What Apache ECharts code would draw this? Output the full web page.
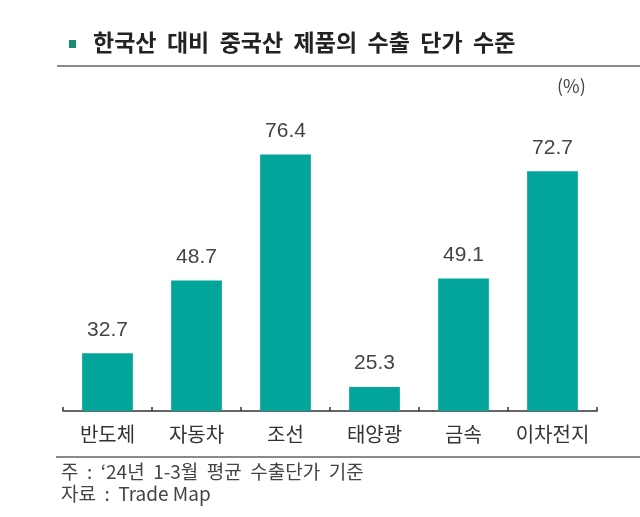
<!DOCTYPE html>
<html><head><meta charset="utf-8">
<script src="https://cdn.jsdelivr.net/npm/echarts@6/dist/echarts.min.js"></script>
<style>html,body{margin:0;padding:0;background:#fff}#c{width:640px;height:517px}</style>
</head><body><div id="c"></div>
<script>
const categories = ['반도체', '자동차', '조선', '태양광', '금속', '이차전지'];
const values = [32.7, 48.7, 76.4, 25.3, 49.1, 72.7];
const titleText = '한국산  대비  중국산  제품의  수출  단가  수준';
const unitText = '(%)';
const noteText = '주  :  ‘24년  1-3월  평균  수출단가  기준';
const sourceText = '자료  :  Trade Map';

const KR = '"Noto Sans CJK KR", "Noto Sans", sans-serif';
const chart = echarts.init(document.getElementById('c'), null, {renderer: 'canvas'});
chart.setOption({
  animation: false,
  backgroundColor: '#fff',
  grid: {left: 63, right: 43, top: 47, bottom: 106},
  xAxis: {
    type: 'category', data: categories, boundaryGap: true,
    axisLine: {lineStyle: {color: '#333', width: 1.5}},
    axisTick: {show: true, inside: true, length: 4, interval: 0, lineStyle: {color: '#333', width: 1.5}},
    axisLabel: {color: '#333', fontSize: 20, fontFamily: KR, margin: 13, interval: 0}
  },
  yAxis: {type: 'value', min: 20, max: 100, show: false, splitLine: {show: false}},
  series: [{
    type: 'bar', data: values, barWidth: '57%',
    itemStyle: {color: '#03a59b'},
    label: {show: true, position: 'top', distance: 13, color: '#444', fontSize: 21,
      fontFamily: '"Liberation Sans", Arial, sans-serif',
      formatter: p => p.value.toFixed(1)}
  }],
  graphic: [
    {type: 'rect', shape: {x: 69, y: 40, width: 7, height: 8}, style: {fill: '#1a8c74'}},
    {type: 'text', left: 93, top: 31, style: {text: titleText, fill: '#222', font: 'bold 23px ' + KR}},
    {type: 'line', shape: {x1: 57, y1: 66, x2: 640, y2: 66}, style: {stroke: '#8a8a8a', lineWidth: 2}},
    {type: 'text', left: 557, top: 77, style: {text: unitText, fill: '#444', font: '18px ' + KR}},
    {type: 'line', shape: {x1: 56, y1: 457, x2: 640, y2: 457}, style: {stroke: '#8a8a8a', lineWidth: 2}},
    {type: 'text', left: 61, top: 462, style: {text: noteText, fill: '#444', font: '19px ' + KR}},
    {type: 'text', left: 61, top: 484, style: {text: sourceText, fill: '#444', font: '19px ' + KR}}
  ]
});
</script></body></html>
